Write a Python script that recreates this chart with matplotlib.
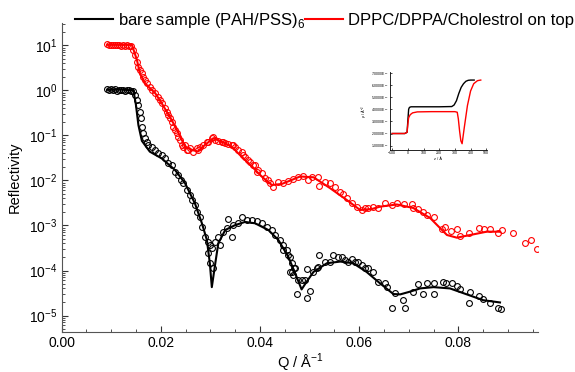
import numpy as np
import matplotlib.pyplot as plt
from matplotlib.ticker import MultipleLocator, LogLocator, NullFormatter

plt.rcParams['font.family'] = ['Liberation Sans', 'DejaVu Sans']
plt.rcParams['mathtext.fontset'] = 'custom'
plt.rcParams['mathtext.rm'] = 'Liberation Sans'

# bare sample (PAH/PSS)6 - measured points
q_bare = [0.0092, 0.0096, 0.0100, 0.0104, 0.0108, 0.0112, 0.0116, 0.0120, 0.0124, 0.0128,
          0.0132, 0.0136, 0.0140, 0.0145, 0.01482, 0.01516, 0.01548, 0.01583, 0.01603, 0.01629,
          0.01649, 0.01683, 0.01718, 0.0175, 0.01819, 0.01885, 0.01952, 0.0202, 0.02087, 0.02153,
          0.02234, 0.02288, 0.02355, 0.02409, 0.02456, 0.02524, 0.02591, 0.02637, 0.02692, 0.02726,
          0.02792, 0.02827, 0.02893, 0.02948, 0.02994, 0.0296, 0.02994, 0.0306, 0.03028, 0.03095,
          0.03161, 0.03196, 0.03262, 0.03351, 0.03331, 0.03431, 0.03464, 0.03565, 0.03633, 0.03734,
          0.03835, 0.03935, 0.04036, 0.04137, 0.04238, 0.04304, 0.04405, 0.04472, 0.0454, 0.04607,
          0.04653, 0.04688, 0.04472, 0.04573, 0.04641, 0.04708, 0.04607, 0.04673, 0.04774, 0.04843,
          0.04909, 0.04742, 0.04944, 0.0501, 0.04956, 0.05077, 0.05145, 0.05177, 0.05198, 0.05312,
          0.05413, 0.0548, 0.05581, 0.05649, 0.05716, 0.05782, 0.05851, 0.05917, 0.05984, 0.06052,
          0.06119, 0.06185, 0.06286, 0.06387, 0.06522, 0.06556, 0.06724, 0.06891, 0.06657, 0.06925,
          0.07081, 0.07194, 0.07294, 0.07363, 0.075, 0.0751, 0.07685, 0.07746, 0.07867, 0.07968,
          0.08034, 0.08236, 0.08222, 0.08423, 0.08504, 0.08639, 0.08806, 0.08855]
r_bare = [1.05, 1.0, 1.08, 1.02, 1.05, 0.98, 1.04, 1.0, 1.03, 0.99,
          1.02, 1.0, 0.98, 0.97, 0.79, 0.615, 0.476, 0.338, 0.241, 0.157,
          0.112, 0.0867, 0.0728, 0.0615, 0.0564, 0.0476, 0.0415, 0.0369, 0.0311, 0.0241,
          0.0221, 0.0157, 0.0132, 0.01026, 0.00867, 0.00615, 0.00476, 0.00369, 0.00286, 0.00203,
          0.00152, 0.00094, 5.64e-4, 4.36e-4, 3.69e-4, 2.41e-4, 1.45e-4, 1.12e-4, 3.11e-4, 4.36e-4,
          5.64e-4, 3.69e-4, 7.28e-4, 1.37e-3, 8.67e-4, 5.64e-4, 1.026e-3, 1.12e-3, 1.52e-3, 1.32e-3,
          1.32e-3, 1.28e-3, 1.12e-3, 9.4e-4, 7.94e-4, 6.15e-4, 4.76e-4, 3.69e-4, 2.86e-4, 2.03e-4,
          9.4e-5, 1.12e-4, 2.86e-4, 2.21e-4, 1.45e-4, 1.12e-4, 9.4e-5, 7.94e-5, 6.15e-5, 6.15e-5,
          6.15e-5, 3.0e-5, 2.49e-5, 3.56e-5, 1.06e-4, 9.4e-5, 1.12e-4, 1.21e-4, 2.21e-4, 1.57e-4,
          1.57e-4, 2.21e-4, 2.03e-4, 2.03e-4, 1.71e-4, 1.57e-4, 1.77e-4, 1.57e-4, 1.57e-4, 1.32e-4,
          1.12e-4, 1.12e-4, 9.4e-5, 5.64e-5, 5.2e-5, 4.36e-5, 3.21e-5, 2.21e-5, 1.45e-5, 1.45e-5,
          3.38e-5, 5.0e-5, 3.0e-5, 5.41e-5, 5.41e-5, 3.0e-5, 5.47e-5, 5.27e-5, 5.2e-5, 4.53e-5,
          3.82e-5, 3.28e-5, 1.87e-5, 2.71e-5, 2.29e-5, 1.92e-5, 1.45e-5, 1.42e-5]

# bare sample - fit
qf_bare = [0.0092, 0.0118, 0.0145, 0.0150, 0.0155, 0.0162, 0.0178, 0.0202, 0.0229, 0.0249,
           0.0269, 0.0283, 0.0293, 0.0299, 0.0303, 0.0310, 0.0316, 0.0330, 0.0350, 0.0370,
           0.0390, 0.0417, 0.0437, 0.0457, 0.0471, 0.0484, 0.0494, 0.0508, 0.0535, 0.0562,
           0.0588, 0.0615, 0.0642, 0.0669, 0.0683, 0.0703, 0.0723, 0.0750, 0.0783, 0.0817,
           0.0850, 0.0884]
rf_bare = [1.03, 1.05, 1.0, 0.479, 0.17, 0.0759, 0.0437, 0.0309, 0.017, 0.0087,
           0.00309, 0.00112, 4.79e-4, 1.45e-4, 4.27e-5, 1.45e-4, 3.98e-4, 7.94e-4, 1.02e-3, 1.2e-3,
           1.12e-3, 7.94e-4, 4.79e-4, 2.04e-4, 8.7e-5, 3.8e-5, 5.6e-5, 9.3e-5, 1.45e-4, 1.58e-4,
           1.45e-4, 9.3e-5, 5.2e-5, 3.0e-5, 2.95e-5, 3.4e-5, 4.0e-5, 4.27e-5, 4.0e-5, 2.95e-5,
           2.19e-5, 1.95e-5]

# DPPC/DPPA/Cholestrol on top - measured points
q_lip = [0.0092, 0.0096, 0.0100, 0.0104, 0.0108, 0.0112, 0.0116, 0.0120, 0.0124, 0.0128,
         0.0132, 0.0136, 0.0140, 0.01448, 0.01482, 0.01516, 0.01548, 0.01583, 0.01617, 0.01649,
         0.01683, 0.01718, 0.01784, 0.01819, 0.01885, 0.0194, 0.01986, 0.0202, 0.02087, 0.02121,
         0.02153, 0.02188, 0.02222, 0.02254, 0.02288, 0.02323, 0.02355, 0.02389, 0.02423, 0.02456,
         0.0249, 0.02524, 0.02556, 0.02591, 0.02657, 0.02726, 0.02758, 0.02792, 0.02859, 0.02927,
         0.0296, 0.03028, 0.0306, 0.03095, 0.03161, 0.0323, 0.03262, 0.03296, 0.03363, 0.03431,
         0.03464, 0.03498, 0.03565, 0.03633, 0.03665, 0.037, 0.03766, 0.038, 0.03867, 0.03901,
         0.03935, 0.03968, 0.04036, 0.04103, 0.04169, 0.04204, 0.0427, 0.04371, 0.04472, 0.04573,
         0.04673, 0.04774, 0.04875, 0.04976, 0.05044, 0.05177, 0.05192, 0.05312, 0.05413, 0.05514,
         0.05615, 0.05682, 0.05762, 0.05851, 0.05952, 0.06052, 0.06119, 0.06185, 0.06286, 0.06387,
         0.06522, 0.06657, 0.0677, 0.06905, 0.0706, 0.07093, 0.07194, 0.07294, 0.07363, 0.0751,
         0.07665, 0.07732, 0.07853, 0.0798, 0.08034, 0.08222, 0.08423, 0.08524, 0.08639, 0.08806,
         0.08875, 0.09097, 0.09351, 0.0946, 0.09593]
r_lip = [10.5, 10.2, 10.4, 10.1, 10.3, 10.0, 10.2, 9.9, 10.1, 9.9,
         10.0, 9.8, 9.7, 7.94, 6.15, 4.36, 3.38, 2.86, 2.41, 2.03,
         1.71, 1.45, 1.21, 1.03, 0.867, 0.728, 0.615, 0.52, 0.402, 0.338,
         0.286, 0.241, 0.203, 0.157, 0.132, 0.112, 0.094, 0.0794, 0.0615, 0.0564,
         0.0615, 0.0476, 0.0476, 0.052, 0.0436, 0.052, 0.0476, 0.0564, 0.0615, 0.0728,
         0.0728, 0.0867, 0.0912, 0.0794, 0.0755, 0.0728, 0.0728, 0.0671, 0.0647, 0.0615,
         0.0615, 0.0564, 0.0476, 0.0436, 0.0369, 0.0338, 0.0286, 0.0262, 0.0221, 0.0221,
         0.0157, 0.0171, 0.0145, 0.0112, 0.01026, 0.00867, 0.00706, 0.00903, 0.00867, 0.00975,
         0.01064, 0.01214, 0.01259, 0.01026, 0.01214, 0.01178, 0.00755, 0.0094, 0.00867, 0.00706,
         0.00564, 0.00501, 0.00402, 0.00311, 0.00262, 0.00221, 0.00241, 0.00241, 0.00254, 0.00241,
         0.00308, 0.00286, 0.00321, 0.00296, 0.00293, 0.00241, 0.00229, 0.00203, 0.00171, 0.00157,
         8.24e-4, 9.12e-4, 7.55e-4, 8.24e-4, 5.85e-4, 6.71e-4, 8.67e-4, 8.24e-4, 8.36e-4, 6.71e-4,
         7.75e-4, 6.71e-4, 4.15e-4, 4.83e-4, 2.96e-4]

# DPPC/DPPA/Cholestrol - fit
qf_lip = [0.0092, 0.0142, 0.0152, 0.0158, 0.0168, 0.0189, 0.0202, 0.0222, 0.0236, 0.0249,
          0.0263, 0.0275, 0.0289, 0.0306, 0.0323, 0.0343, 0.0363, 0.0384, 0.0404, 0.0424,
          0.0444, 0.0464, 0.0481, 0.0508, 0.0541, 0.0575, 0.0602, 0.0626, 0.0642, 0.0676,
          0.0709, 0.0743, 0.0777, 0.0797, 0.0824, 0.0857, 0.0884]
rf_lip = [10.3, 10.3, 4.76, 2.41, 1.45, 0.867, 0.52, 0.221, 0.112, 0.0564,
          0.0476, 0.044, 0.0615, 0.0867, 0.0728, 0.0564, 0.0338, 0.0203, 0.0121, 0.00794,
          0.00836, 0.01026, 0.01227, 0.01178, 0.0068, 0.00369, 0.00221, 0.00233, 0.00262, 0.00293,
          0.00245, 0.00147, 6.15e-4, 5.36e-4, 6.15e-4, 7.28e-4, 7.28e-4]

# inset: SLD profiles (units of 1e-6 / A^2)
z_bare = [-100, -20, -5, 0, 5, 10, 20, 100, 200, 280, 295, 310, 325, 340, 355, 370, 385, 400, 423]
rho_bare = [2.0, 2.0, 2.1, 3.1, 4.0, 4.15, 4.2, 4.2, 4.2, 4.22, 4.35, 4.7, 5.3, 5.8, 6.1, 6.3, 6.38, 6.4, 6.4]
z_lip = [-100, -20, -5, 0, 5, 15, 30, 60, 150, 300, 315, 322, 330, 338, 346, 360, 380, 400, 420, 444, 465]
rho_lip = [2.0, 2.0, 2.1, 2.8, 3.3, 3.55, 3.7, 3.78, 3.8, 3.8, 3.75, 3.2, 2.2, 1.4, 1.16, 2.5, 4.3, 5.5, 6.1, 6.35, 6.4]

fig = plt.figure(figsize=(5.75, 3.72), dpi=100)
ax = fig.add_axes([0.107, 0.1075, 0.829, 0.8298])

ax.plot(q_bare, r_bare, 'o', mfc='none', mec='black', ms=4.2, mew=0.8)
ax.plot(q_lip, r_lip, 'o', mfc='none', mec='red', ms=4.2, mew=0.8)
ax.plot(qf_bare, rf_bare, '-', color='black', lw=1.5, label='bare sample (PAH/PSS)$_6$')
ax.plot(qf_lip, rf_lip, '-', color='red', lw=1.5, label='DPPC/DPPA/Cholestrol on top')

ax.set_yscale('log')
ax.set_xlim(0, 0.0961)
ax.set_ylim(4.3e-6, 31)
ax.xaxis.set_major_locator(MultipleLocator(0.02))
ax.xaxis.set_minor_locator(MultipleLocator(0.005))
ax.xaxis.set_major_formatter(plt.FuncFormatter(lambda v, p: f'{v:.2f}'))
ax.yaxis.set_major_locator(LogLocator(base=10, numticks=20))
ax.yaxis.set_minor_locator(LogLocator(base=10, subs=np.arange(2, 10), numticks=20))
ax.yaxis.set_minor_formatter(NullFormatter())

for s in ['top', 'right']:
    ax.spines[s].set_visible(False)
for s in ['left', 'bottom']:
    ax.spines[s].set_color('#555555')
ax.tick_params(which='both', direction='in', colors='#333333', labelcolor='black', labelsize=10, pad=3)
ax.tick_params(which='major', length=4)
ax.tick_params(which='minor', length=2)

ax.set_xlabel('Q / Å$^{-1}$', fontsize=10.5, labelpad=1)
ax.set_ylabel('Reflectivity', fontsize=10.5, labelpad=5)

fig.legend(loc='center left', bbox_to_anchor=(0.119, 0.945), ncol=2, frameon=False,
           fontsize=12, handlelength=2.3, handletextpad=0.25, columnspacing=0.0, borderaxespad=0)

# inset
ins = fig.add_axes([0.678, 0.597, 0.169, 0.209])
ins.plot(z_bare, rho_bare, color='black', lw=1.0)
ins.plot(z_lip, rho_lip, color='red', lw=1.0)
ins.set_xlim(-115, 505)
ins.set_ylim(0.65, 7.05)
ins.set_xticks([-100, 0, 100, 200, 300, 400, 500])
ins.set_yticks([1, 2, 3, 4, 5, 6, 7])
ins.set_yticklabels([f'{v}.0000E$^{{-6}}$' for v in range(1, 8)])
for s in ['top', 'right']:
    ins.spines[s].set_visible(False)
ins.tick_params(direction='in', length=1.5, width=0.5, labelsize=2.5, pad=1)
for s in ['left', 'bottom']:
    ins.spines[s].set_linewidth(0.6)
ins.set_xlabel('z / Å', fontsize=2.8, labelpad=1)
ins.set_ylabel('ρ / Å$^{-2}$', fontsize=2.8, labelpad=1)

fig.savefig('out.png', dpi=100)
